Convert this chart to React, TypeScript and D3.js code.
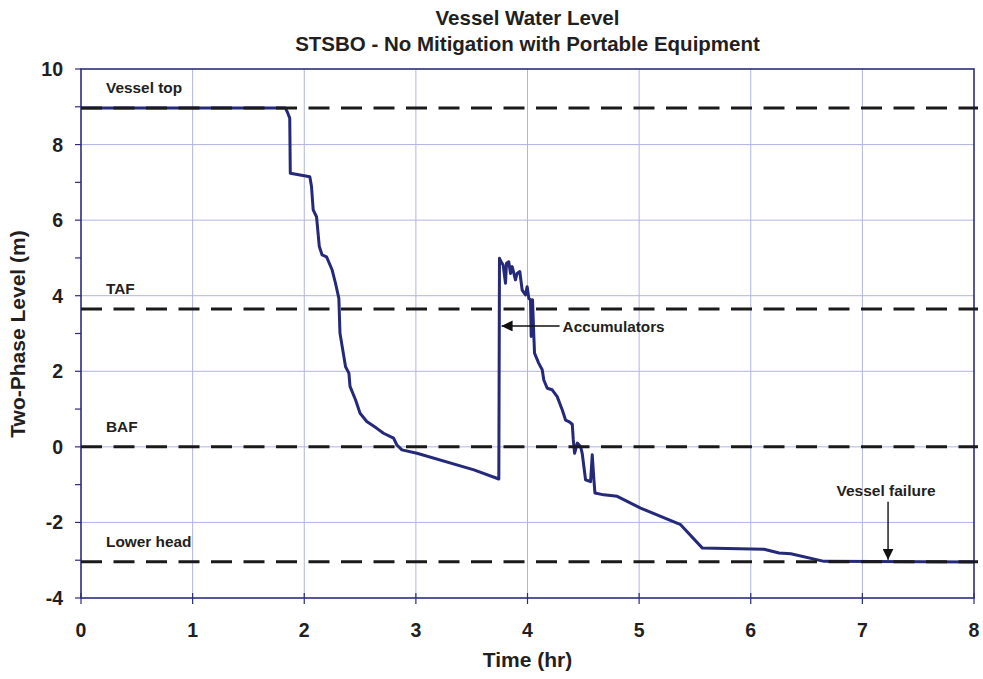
import React, { useEffect, useRef } from "react";
import * as d3 from "d3";

const timeHr = [0, 1.83, 1.85, 1.87, 1.875, 2.05, 2.065, 2.08, 2.11, 2.135, 2.16, 2.2, 2.25, 2.28, 2.31, 2.32, 2.37, 2.4, 2.41, 2.46, 2.5, 2.56, 2.65, 2.71, 2.8, 2.83, 2.875, 3.01, 3.52, 3.743,
  3.749, 3.764, 3.782, 3.803, 3.812, 3.832, 3.848, 3.863, 3.892, 3.907, 3.931, 3.952, 3.982, 3.997, 4.012, 4.027, 4.033, 4.045, 4.057, 4.063, 4.101, 4.132, 4.146, 4.177, 4.221, 4.266, 4.311, 4.341, 4.37, 4.401, 4.41, 4.422, 4.446, 4.475, 4.49, 4.52, 4.565, 4.58, 4.595, 4.604, 4.684, 4.804, 5.013, 5.372, 5.567, 6.119, 6.254, 6.359, 6.657, 8.0];
const levelM = [8.97, 8.97, 8.85, 8.7, 7.24, 7.15, 6.89, 6.27, 6.09, 5.3, 5.08, 5.03, 4.68, 4.33, 3.93, 3.01, 2.12, 1.95, 1.6, 1.24, 0.89, 0.67, 0.49, 0.36, 0.23, 0.05, -0.08, -0.17, -0.61, -0.85,
  4.99, 4.9, 4.81, 4.33, 4.86, 4.9, 4.59, 4.77, 4.42, 4.59, 4.64, 4.15, 4.02, 4.24, 3.93, 3.89, 2.92, 3.89, 2.92, 2.48, 2.21, 2.04, 1.77, 1.55, 1.51, 1.33, 0.98, 0.71, 0.67, 0.6, 0.19, -0.17, 0.1, 0.01, -0.17, -0.87, -0.92, -0.21, -0.87, -1.22, -1.27, -1.31, -1.62, -2.06, -2.68, -2.71, -2.81, -2.83, -3.03, -3.05];

const refNames = ["Vessel top", "TAF", "BAF", "Lower head"];
const refLevels = [8.97, 3.65, 0, -3.04];

const xTicks = [0, 1, 2, 3, 4, 5, 6, 7, 8];
const yTicks = [-4, -2, 0, 2, 4, 6, 8, 10];
const yMinor = [-3, -1, 1, 3, 5, 7, 9];

const titleLines = ["Vessel Water Level", "STSBO - No Mitigation with Portable Equipment"];
const xLabel = "Time (hr)";
const yLabel = "Two-Phase Level (m)";
const accumulatorText = "Accumulators";
const accumulatorPoint = [3.75, 3.2];
const failureText = "Vessel failure";
const failurePoint = [7.23, -3.04];

export default function App() {
  const ref = useRef<SVGSVGElement>(null);
  useEffect(() => {
    const svg = d3.select(ref.current);
    svg.selectAll("*").remove();
    const L = 81, R = 974, T = 69, B = 598;
    const x = d3.scaleLinear().domain([0, 8]).range([L, R]);
    const y = d3.scaleLinear().domain([-4, 10]).range([B, T]);
    const font = "'Liberation Sans', Arial, sans-serif";
    const navy = "#2b2d7c";
    const gridC = "#b2b4e0";
    const ink = "#231f20";

    const defs = svg.append("defs");
    defs.append("marker").attr("id", "arr").attr("viewBox", "0 0 10 10").attr("refX", 10).attr("refY", 5)
      .attr("markerWidth", 11).attr("markerHeight", 11).attr("markerUnits", "userSpaceOnUse").attr("orient", "auto")
      .append("path").attr("d", "M0,0 L10,5 L0,10 z").attr("fill", "#111");

    // grid
    svg.append("g").selectAll("line").data(xTicks.slice(1, -1)).join("line")
      .attr("x1", d => x(d)).attr("x2", d => x(d)).attr("y1", T).attr("y2", B)
      .attr("stroke", gridC).attr("stroke-width", 1);
    svg.append("g").selectAll("line").data(yTicks.slice(1, -1)).join("line")
      .attr("y1", d => y(d)).attr("y2", d => y(d)).attr("x1", L).attr("x2", R)
      .attr("stroke", gridC).attr("stroke-width", 1);

    // frame
    svg.append("rect").attr("x", L).attr("y", T).attr("width", R - L).attr("height", B - T)
      .attr("fill", "none").attr("stroke", navy).attr("stroke-width", 1.6);

    // ticks
    svg.append("g").selectAll("line").data(yTicks.concat(yMinor)).join("line")
      .attr("x1", L - 6).attr("x2", L).attr("y1", d => y(d)).attr("y2", d => y(d))
      .attr("stroke", navy).attr("stroke-width", 1.2);
    svg.append("g").selectAll("line").data(xTicks).join("line")
      .attr("x1", d => x(d)).attr("x2", d => x(d)).attr("y1", B - 5).attr("y2", B + 6)
      .attr("stroke", navy).attr("stroke-width", 1.2);

    // tick labels
    svg.append("g").selectAll("text").data(yTicks).join("text")
      .attr("x", L - 18).attr("y", d => y(d) + 7).attr("text-anchor", "end")
      .attr("font-family", font).attr("font-weight", "bold").attr("font-size", 19.5).attr("fill", ink)
      .text(d => d);
    svg.append("g").selectAll("text").data(xTicks).join("text")
      .attr("x", d => x(d)).attr("y", 637).attr("text-anchor", "middle")
      .attr("font-family", font).attr("font-weight", "bold").attr("font-size", 19.5).attr("fill", ink)
      .text(d => d);

    // data line
    const pts = timeHr.map((t, i) => [t, levelM[i]] as [number, number]);
    svg.append("path").datum(pts)
      .attr("d", d3.line<[number, number]>().x(d => x(d[0])).y(d => y(d[1])))
      .attr("fill", "none").attr("stroke", "#25297a").attr("stroke-width", 3).attr("stroke-linejoin", "round");

    // reference dashed lines
    svg.append("g").selectAll("line").data(refLevels).join("line")
      .attr("x1", L).attr("x2", R + 4).attr("y1", d => y(d)).attr("y2", d => y(d))
      .attr("stroke", "#1a1a1a").attr("stroke-width", 3).attr("stroke-dasharray", "21,11.5");
    svg.append("g").selectAll("text").data(refNames).join("text")
      .attr("x", L + 25).attr("y", (d, i) => y(refLevels[i]) - 15)
      .attr("font-family", font).attr("font-weight", "bold").attr("font-size", 15.4).attr("fill", ink)
      .text(d => d);

    // annotations
    svg.append("line").attr("x1", x(accumulatorPoint[0]) + 60).attr("x2", x(accumulatorPoint[0]) + 2)
      .attr("y1", y(accumulatorPoint[1])).attr("y2", y(accumulatorPoint[1]))
      .attr("stroke", "#111").attr("stroke-width", 1.4).attr("marker-end", "url(#arr)");
    svg.append("text").attr("x", x(accumulatorPoint[0]) + 63).attr("y", y(accumulatorPoint[1]) + 6)
      .attr("font-family", font).attr("font-weight", "bold").attr("font-size", 15.3).attr("fill", ink)
      .text(accumulatorText);
    svg.append("line").attr("x1", x(failurePoint[0])).attr("x2", x(failurePoint[0]))
      .attr("y1", y(failurePoint[1]) - 60).attr("y2", y(failurePoint[1]) - 2)
      .attr("stroke", "#111").attr("stroke-width", 1.4).attr("marker-end", "url(#arr)");
    svg.append("text").attr("x", x(failurePoint[0]) - 2).attr("y", y(failurePoint[1]) - 66).attr("text-anchor", "middle")
      .attr("font-family", font).attr("font-weight", "bold").attr("font-size", 15.5).attr("fill", ink)
      .text(failureText);

    // titles
    svg.append("g").selectAll("text").data(titleLines).join("text")
      .attr("x", (L + R) / 2).attr("y", (d, i) => 25 + i * 26).attr("text-anchor", "middle")
      .attr("font-family", font).attr("font-weight", "bold").attr("font-size", 20.5).attr("fill", ink)
      .text(d => d);
    svg.append("text").attr("x", (L + R) / 2).attr("y", 667).attr("text-anchor", "middle")
      .attr("font-family", font).attr("font-weight", "bold").attr("font-size", 21).attr("fill", ink)
      .text(xLabel);
    svg.append("text").attr("transform", `translate(25,${334}) rotate(-90)`).attr("text-anchor", "middle")
      .attr("font-family", font).attr("font-weight", "bold").attr("font-size", 21).attr("fill", ink)
      .text(yLabel);
  }, []);
  return (
    <svg ref={ref} width={983} height={679} style={{ position: "absolute", left: 0, top: 0, background: "#fff" }} />
  );
}
